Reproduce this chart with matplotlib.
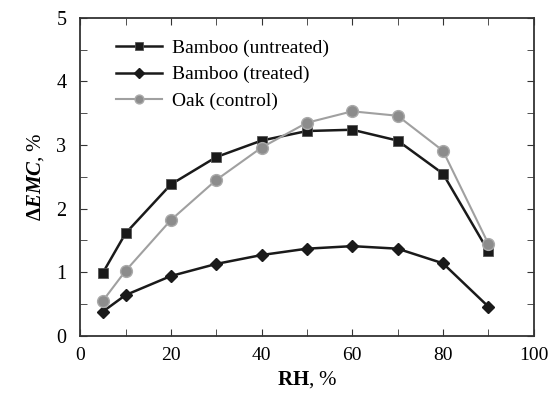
import matplotlib
matplotlib.use('Agg')
import matplotlib.pyplot as plt
import numpy as np
from matplotlib.ticker import MultipleLocator

plt.rcParams['font.family'] = 'Liberation Serif'
plt.rcParams['mathtext.fontset'] = 'custom'
plt.rcParams['mathtext.rm'] = 'Liberation Serif'
plt.rcParams['mathtext.it'] = 'Liberation Serif:italic'
plt.rcParams['mathtext.bf'] = 'Liberation Serif:bold'
plt.rcParams['mathtext.bfit'] = 'Liberation Serif:bold:italic'

# data
rh = [5, 10, 20, 30, 40, 50, 60, 70, 80, 90]
untreated = [0.99, 1.61, 2.38, 2.81, 3.07, 3.22, 3.24, 3.07, 2.55, 1.33]
treated = [0.38, 0.64, 0.94, 1.13, 1.27, 1.37, 1.41, 1.37, 1.14, 0.46]
oak = [0.55, 1.02, 1.82, 2.45, 2.96, 3.35, 3.53, 3.46, 2.91, 1.45]

fig = plt.figure(figsize=(5.49, 3.96), dpi=100)
ax = fig.add_axes([0.146, 0.152, 0.826, 0.803])

ax.plot(rh, untreated, color='#1a1a1a', marker='s', ms=7.5, lw=1.8,
        mec='#555555', mew=0.6, label='Bamboo (untreated)')
ax.plot(rh, treated, color='#1a1a1a', marker='D', ms=6.5, lw=1.8,
        label='Bamboo (treated)')
ax.plot(rh, oak, color='#a0a0a0', marker='o', ms=8.5, lw=1.5,
        mfc='#8c8c8c', mec='#aaaaaa', label='Oak (control)')

ax.set_xlim(0, 100)
ax.set_ylim(0, 5)
ax.xaxis.set_major_locator(MultipleLocator(20))
ax.xaxis.set_minor_locator(MultipleLocator(10))
ax.yaxis.set_major_locator(MultipleLocator(1))
ax.yaxis.set_minor_locator(MultipleLocator(0.5))
ax.tick_params(which='both', direction='in', top=True, right=True,
               labelsize=14.5, color='#333333', length=5)
ax.tick_params(axis='x', pad=8, labelsize=14)
ax.tick_params(axis='y', pad=10)
for s in ax.spines.values():
    s.set_color('#333333')
    s.set_linewidth(1.3)

ax.set_xlabel(r'$\mathbf{RH}$, %', fontsize=15, labelpad=4)
ax.set_ylabel(r'$\mathbf{\Delta}\boldsymbol{EMC}$, %', fontsize=15, labelpad=7)
ax.legend(loc='upper left', bbox_to_anchor=(0.048, 0.975), frameon=False,
          fontsize=14, handlelength=2.4, handletextpad=0.5,
          labelspacing=0.45, borderpad=0.2, markerscale=0.75)

fig.savefig('out.png', dpi=100)
